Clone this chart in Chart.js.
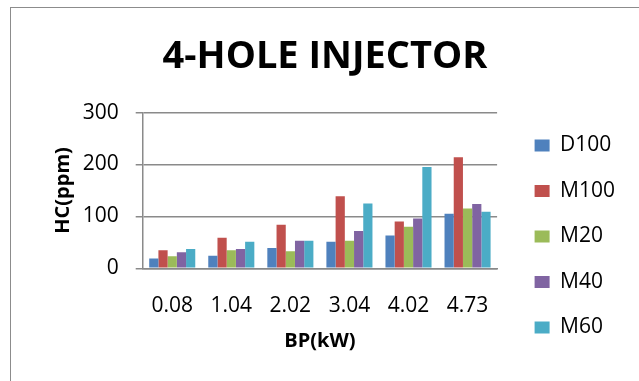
<!DOCTYPE html>
<html><head><meta charset="utf-8">
<script src="https://cdn.jsdelivr.net/npm/chart.js@4"></script>
<style>
html,body{margin:0;padding:0;background:#fff;}
#wrap{position:relative;width:639px;height:381px;}
#frame{position:absolute;left:10px;top:7px;width:640px;height:380px;border:1px solid #8c8c8c;box-sizing:border-box;pointer-events:none;}
canvas{position:absolute;left:0;top:0;}
</style></head>
<body>
<div id="wrap"><canvas id="c" width="639" height="381"></canvas><div id="frame"></div></div>
<script>
const categories = ["0.08","1.04","2.02","3.04","4.02","4.73"];
const D100 = [19,24,39,51,63,105];
const M100 = [35,59,84,139,90,214];
const M20  = [23,35,33,53,80,115];
const M40  = [31,37,53,72,96,124];
const M60  = [37,51,53,125,195,109];
const seriesNames = ["D100","M100","M20","M40","M60"];
const colors = ["#4f81bd","#c0504d","#9bbb59","#8064a2","#4bacc6"];
const yTicks = [0,100,200,300];

const FONT = "'Open Sans', sans-serif";
const series = [D100,M100,M20,M40,M60];

const blockShift = {
  id:'blockShift',
  afterLayout(chart){
    const lg = chart.legend;
    const dx = 13, dy = 46;
    lg.left += dx; lg.right += dx; lg.top += dy; lg.bottom += dy;
    const tb = chart.titleBlock;
    if (tb){ tb.left += 19; tb.right += 19; }
  }
};

new Chart(document.getElementById('c'), {
  type: 'bar',
  data: {
    labels: categories,
    datasets: series.map((d,i)=>({label:seriesNames[i],data:d,backgroundColor:colors[i],borderWidth:0}))
  },
  plugins:[blockShift],
  options: {
    responsive:false, animation:false,
    layout:{padding:{left:0,right:27,top:0,bottom:0}},
    datasets:{bar:{categoryPercentage:0.78,barPercentage:1}},
    plugins:{
      title:{display:true,text:"4-HOLE INJECTOR",color:"#000",font:{family:FONT,size:38,weight:"bold"},padding:{top:34,bottom:33}},
      legend:{position:'right',align:'center',labels:{color:"#000",font:{family:FONT,size:21},boxWidth:15,boxHeight:12,padding:24.5}},
      tooltip:{enabled:false}
    },
    scales:{
      x:{afterFit:s=>{s.height=112.7;},
         grid:{display:false,drawTicks:false},border:{color:"#888",width:1.5},
         ticks:{color:"#000",font:{family:FONT,size:21},padding:25,maxRotation:0},
         title:{display:true,text:"BP(kW)",color:"#000",font:{family:FONT,size:20,weight:"bold"},padding:{bottom:28}}},
      y:{min:0,max:300,afterFit:s=>{s.width=142.7;},
         afterBuildTicks:s=>{s.ticks=yTicks.map(v=>({value:v}));},
         grid:{color:"#8a8a8a",tickLength:7,lineWidth:1.5},border:{color:"#8a8a8a",width:1.5},
         ticks:{color:"#000",font:{family:FONT,size:21},padding:17},
         title:{display:true,text:"HC(ppm)",color:"#000",font:{family:FONT,size:20,weight:"bold"},padding:{top:51}}}
    }
  }
});
</script>
</body></html>
